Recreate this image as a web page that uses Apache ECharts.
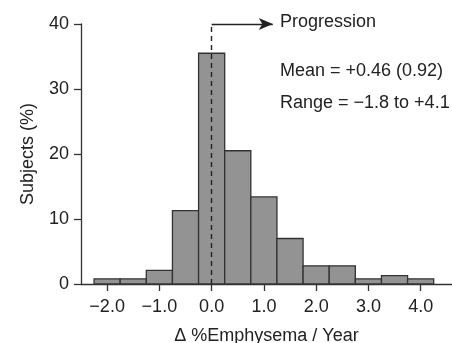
<!DOCTYPE html>
<html>
<head>
<meta charset="utf-8">
<script src="https://cdn.jsdelivr.net/npm/echarts@6/dist/echarts.min.js"></script>
<style>
    html, body { margin: 0; padding: 0; background: #fff; }
    #histogram { width: 452px; height: 343px; }
</style>
</head>
<body>
<div id="histogram"></div>
<script>
    // bin centres (% emphysema change per year), bin width 0.5
    const binCenters = [-2.0, -1.5, -1.0, -0.5, 0.0, 0.5, 1.0, 1.5, 2.0, 2.5, 3.0, 3.5, 4.0]
    const binWidth = 0.5
    const subjectsPct = [0.8, 0.8, 2.1, 11.3, 35.5, 20.5, 13.4, 7.0, 2.8, 2.8, 0.8, 1.3, 0.8]
    const xTicks = [-2, -1, 0, 1, 2, 3, 4]
    const progressionStart = 0
    const progressionArrowEnd = 1.17
    const noteLines = ['Mean = +0.46 (0.92)', 'Range = \u22121.8 to +4.1']

    const FONT = '"Liberation Sans", Arial, sans-serif'
    const TXT = '#222'

    const chart = echarts.init(document.getElementById('histogram'), null, { renderer: 'canvas' })

    const binData = binCenters.map((c, i) => [c - binWidth / 2, c + binWidth / 2, subjectsPct[i]])

    const fmtX = v => {
        const s = Number(v).toFixed(1)
        return s.charAt(0) === '-' ? '\u2212' + s.slice(1) : s
    }

    const option = {
        animation: false,
        textStyle: { fontFamily: FONT },
        grid: { left: 81, right: 0, top: 24, bottom: 59, outerBoundsMode: 'none' },
        xAxis: {
            type: 'value',
            min: -2.5,
            max: 4.6,
            name: '\u0394 %Emphysema / Year',
            nameLocation: 'middle',
            nameGap: 43,
            nameTextStyle: { color: TXT, fontSize: 18, fontFamily: FONT },
            splitLine: { show: false },
            axisLine: { show: true, onZero: false, lineStyle: { color: '#333', width: 1.3 } },
            axisTick: { show: true, length: 7, customValues: xTicks, lineStyle: { color: '#333', width: 1.3 } },
            axisLabel: { customValues: xTicks, margin: 14, color: TXT, fontSize: 18, fontFamily: FONT, formatter: fmtX }
        },
        yAxis: {
            type: 'value',
            min: 0,
            max: 40,
            interval: 10,
            name: 'Subjects (%)',
            nameLocation: 'middle',
            nameGap: 44,
            nameTextStyle: { color: TXT, fontSize: 18, fontFamily: FONT },
            splitLine: { show: false },
            axisLine: { show: true, onZero: false, lineStyle: { color: '#333', width: 1.3 } },
            axisTick: { show: true, length: 7, lineStyle: { color: '#333', width: 1.3 } },
            axisLabel: { margin: 12, color: TXT, fontSize: 18, fontFamily: FONT }
        },
        series: [
            {
                type: 'custom',
                data: binData,
                encode: { x: [0, 1], y: 2 },
                renderItem: (params, api) => {
                    const p0 = api.coord([api.value(0), 0])
                    const p1 = api.coord([api.value(1), api.value(2)])
                    return {
                        type: 'rect',
                        shape: { x: p0[0], y: p1[1], width: p1[0] - p0[0], height: p0[1] - p1[1] },
                        style: { fill: '#939393', stroke: '#333', lineWidth: 1.3 }
                    }
                },
                z: 2
            },
            {
                type: 'line',
                data: [],
                markLine: {
                    silent: true,
                    symbol: ['none', 'none'],
                    label: { show: false },
                    lineStyle: { color: '#222', type: [5, 4], width: 1.4 },
                    data: [[{ coord: [progressionStart, 0] }, { coord: [progressionStart, 40] }]],
                    z: 5
                }
            },
            {
                type: 'line',
                data: [],
                markLine: {
                    silent: true,
                    symbol: ['none', 'arrow'],
                    symbolSize: [9, 14],
                    label: { show: false },
                    lineStyle: { color: '#222', type: 'solid', width: 1.4 },
                    data: [[{ coord: [progressionStart, 40] }, { coord: [progressionArrowEnd, 40] }]],
                    z: 5
                }
            }
        ],
        graphic: [
            { type: 'text', left: 280, top: 13, style: { text: 'Progression', fill: TXT, font: '18px ' + FONT } },
            { type: 'text', left: 280, top: 62, style: { text: noteLines[0], fill: TXT, font: '18px ' + FONT } },
            { type: 'text', left: 280, top: 94, style: { text: noteLines[1], fill: TXT, font: '18px ' + FONT } }
        ]
    }

    chart.setOption(option)
</script>
</body>
</html>
